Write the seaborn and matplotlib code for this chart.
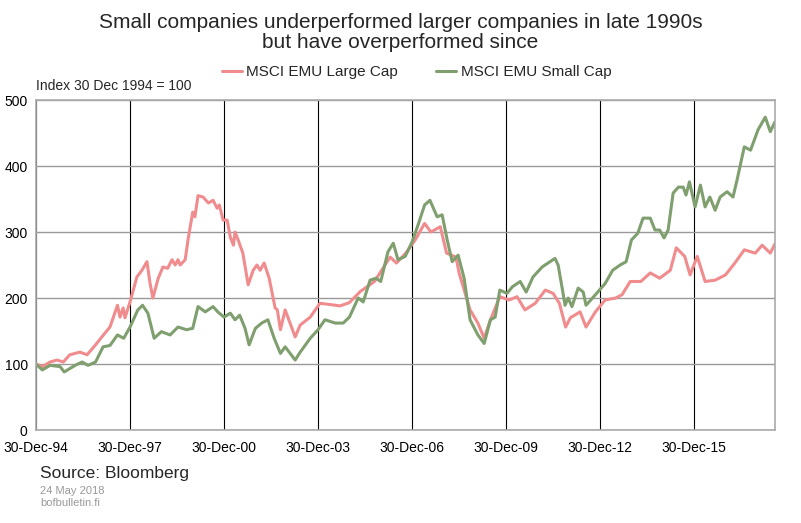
import matplotlib
matplotlib.use("Agg")
import matplotlib.pyplot as plt
import seaborn as sns
import pandas as pd

large_t = [1995.0,1995.2,1995.45,1995.67,1995.87,1996.08,1996.4,1996.63,1996.9,1997.1,1997.36,1997.6,1997.68,1997.78,1997.84,1998.0,1998.22,1998.38,1998.54,1998.64,1998.73,1998.9,1999.05,1999.2,1999.34,1999.44,1999.53,1999.6,1999.76,1999.85,2000.0,2000.07,2000.17,2000.33,2000.5,2000.65,2000.78,2000.85,2000.97,2001.1,2001.2,2001.3,2001.35,2001.45,2001.6,2001.77,2001.93,2002.05,2002.15,2002.28,2002.44,2002.63,2002.7,2002.8,2002.95,2003.27,2003.43,2003.75,2004.06,2004.4,2004.7,2005.0,2005.35,2005.8,2006.3,2006.5,2006.8,2007.1,2007.4,2007.6,2007.9,2008.1,2008.4,2008.5,2008.85,2009.1,2009.3,2009.5,2009.8,2010.1,2010.35,2010.6,2010.93,2011.25,2011.5,2011.7,2011.9,2012.05,2012.36,2012.55,2012.85,2013.16,2013.5,2013.7,2013.96,2014.3,2014.6,2014.9,2015.24,2015.43,2015.7,2015.87,2016.1,2016.35,2016.67,2017.0,2017.3,2017.6,2017.95,2018.17,2018.43,2018.58]
large_v = [100,96,103,106,103,114,118,114,129,141,156,189,171,185,170,194,232,242,255,222,200,230,247,245,258,250,258,250,258,288,330,323,355,353,344,348,336,341,318,318,292,280,300,288,268,220,242,250,242,253,230,185,182,152,182,141,159,171,192,190,188,193,210,225,262,253,268,288,313,300,308,268,262,238,182,162,139,167,202,197,202,182,192,212,207,192,156,170,179,156,179,197,200,205,225,225,238,230,242,276,263,235,263,225,227,235,253,273,268,280,268,282]

small_t = [1995.0,1995.2,1995.45,1995.77,1995.9,1996.25,1996.47,1996.66,1996.9,1997.14,1997.36,1997.6,1997.8,1998.0,1998.25,1998.4,1998.57,1998.77,1999.0,1999.28,1999.53,1999.8,2000.0,2000.17,2000.4,2000.65,2000.8,2001.0,2001.2,2001.35,2001.5,2001.67,2001.8,2002.0,2002.2,2002.4,2002.6,2002.8,2002.95,2003.27,2003.43,2003.75,2004.0,2004.22,2004.55,2004.8,2005.0,2005.28,2005.44,2005.66,2005.85,2006.0,2006.23,2006.4,2006.55,2006.78,2007.0,2007.2,2007.4,2007.57,2007.8,2007.96,2008.12,2008.28,2008.47,2008.66,2008.85,2009.1,2009.3,2009.5,2009.65,2009.8,2010.03,2010.2,2010.45,2010.64,2010.86,2011.15,2011.4,2011.56,2011.66,2011.8,2011.88,2011.98,2012.1,2012.3,2012.46,2012.55,2012.85,2013.16,2013.4,2013.64,2013.83,2014.0,2014.2,2014.37,2014.6,2014.75,2014.9,2015.04,2015.17,2015.33,2015.5,2015.65,2015.74,2015.85,2016.03,2016.2,2016.35,2016.5,2016.67,2016.83,2017.05,2017.24,2017.37,2017.6,2017.8,2018.04,2018.27,2018.43,2018.58]
small_v = [100,91,98,96,88,98,103,98,103,126,128,144,139,156,182,189,177,139,149,144,156,152,154,187,179,187,179,171,177,167,174,154,129,154,162,167,139,116,126,106,118,139,152,167,162,162,171,200,194,227,230,225,270,283,258,263,285,312,341,348,323,326,288,255,265,230,167,144,131,167,171,212,207,217,225,209,232,247,255,260,250,212,189,200,187,215,209,189,205,222,242,250,255,288,298,321,321,303,303,291,303,359,368,368,356,376,338,371,338,353,333,353,361,353,379,429,424,455,474,452,467]

xticks = [1995.0, 1998.0, 2001.0, 2004.0, 2007.0, 2010.0, 2013.0, 2016.0]
xlabels = ["30-Dec-94", "30-Dec-97", "30-Dec-00", "30-Dec-03", "30-Dec-06", "30-Dec-09", "30-Dec-12", "30-Dec-15"]
yticks = [0, 100, 200, 300, 400, 500]

df = pd.concat([
    pd.DataFrame({"t": large_t, "v": large_v, "s": "MSCI EMU Large Cap"}),
    pd.DataFrame({"t": small_t, "v": small_v, "s": "MSCI EMU Small Cap"}),
])

sns.set_style("white")
plt.rcParams['font.family'] = ['Liberation Sans', 'DejaVu Sans']

fig = plt.figure(figsize=(8.01, 5.23), dpi=100)
ax = fig.add_axes([36/801, 93/523, 739/801, 330/523])
sns.lineplot(data=df, x="t", y="v", hue="s",
             palette={"MSCI EMU Large Cap": "#F08C8E", "MSCI EMU Small Cap": "#7F9F6F"},
             linewidth=2.2, ax=ax, legend=False, sort=False)
ax.set_xlim(1995.0, 2018.58)
ax.set_ylim(0, 500)
ax.set_xticks(xticks)
ax.set_xticklabels(xlabels, fontsize=10)
ax.set_yticks(yticks)
ax.tick_params(axis="y", labelsize=10, length=0, pad=6, labelcolor="black")
ax.tick_params(axis="x", length=0, pad=8, labelcolor="black")
ax.grid(axis="x", color="black", linewidth=0.8)
ax.grid(axis="y", color="#999999", linewidth=1.0)
for s in ax.spines.values():
    s.set_color("#aaaaaa")
    s.set_linewidth(1.2)
ax.set_xlabel("")
ax.set_ylabel("")

fig.text(0.5, 0.938, "Small companies underperformed larger companies in late 1990s\nbut have overperformed since",
         ha="center", va="center", fontsize=15, linespacing=1.1)
from matplotlib.lines import Line2D
handles = [Line2D([], [], color="#F08C8E", lw=2.2), Line2D([], [], color="#7F9F6F", lw=2.2)]
fig.legend(handles, ["MSCI EMU Large Cap", "MSCI EMU Small Cap"], loc="center",
           bbox_to_anchor=(0.52, 0.862), ncol=2, frameon=False, fontsize=11,
           handlelength=1.3, columnspacing=2.5, handletextpad=0.3)
fig.text(36/801, 0.822, "Index 30 Dec 1994 = 100", fontsize=10, va="bottom")
fig.text(40/801, 0.095, "Source: Bloomberg", fontsize=12.5, va="center")
fig.text(40/801, 0.062, "24 May 2018", fontsize=8, color="#999999", va="center")
fig.text(40/801, 0.038, "bofbulletin.fi", fontsize=8, color="#999999", va="center")

fig.savefig("out.png", dpi=100)
